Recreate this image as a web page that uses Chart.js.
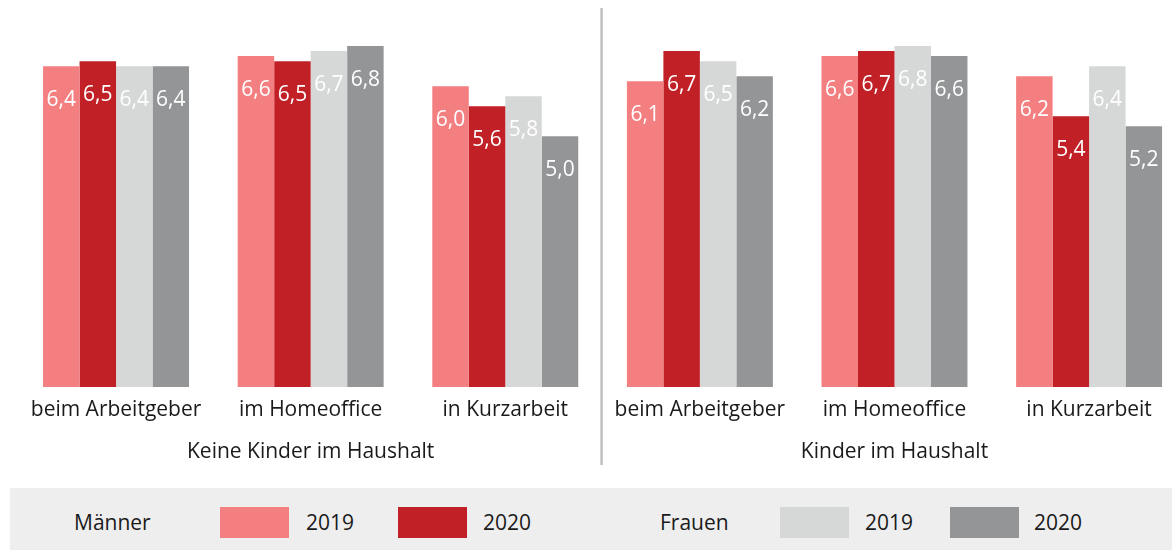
<!DOCTYPE html>
<html>
<head>
<meta charset="utf-8">
<script src="https://cdn.jsdelivr.net/npm/chart.js@4"></script>
<style>
    html, body { margin: 0; padding: 0; background: #fff; overflow: hidden; }
    body { width: 1172px; height: 550px; position: relative; font-family: "Open Sans", sans-serif; }
    #chartWrap { position: absolute; left: 0; top: 0; width: 1190px; height: 488px; }
    #legend { position: absolute; left: 10px; top: 488px; width: 1162px; height: 62px; background: #eeeeee; }
    #legend span { position: absolute; font-size: 21px; color: #1a1a1a; line-height: 62px; top: 3px; }
    #legend i { position: absolute; top: 19px; width: 69px; height: 31px; }
</style>
</head>
<body>
<div id="chartWrap"><canvas id="mainChart" width="1190" height="488"></canvas></div>
<div id="legend">
    <span style="left:64px">Männer</span>
    <i style="left:210px;background:#f47f80"></i>
    <span style="left:296px">2019</span>
    <i style="left:388px;background:#c12026"></i>
    <span style="left:473px">2020</span>
    <span style="left:650px">Frauen</span>
    <i style="left:770px;background:#d6d8d7"></i>
    <span style="left:855px">2019</span>
    <i style="left:940px;background:#939596"></i>
    <span style="left:1024px">2020</span>
</div>
<script>
// categories: three situations per household type
const categories = [
    'beim Arbeitgeber', ['im Homeoffice', 'Keine Kinder im Haushalt'], 'in Kurzarbeit',
    'beim Arbeitgeber', ['im Homeoffice', 'Kinder im Haushalt'], 'in Kurzarbeit'
];
const maenner2019 = [6.4, 6.6, 6.0, 6.1, 6.6, 6.2];
const maenner2020 = [6.5, 6.5, 5.6, 6.7, 6.7, 5.4];
const frauen2019 = [6.4, 6.7, 5.8, 6.5, 6.8, 6.4];
const frauen2020 = [6.4, 6.8, 5.0, 6.2, 6.6, 5.2];

const colors = ['#f47f80', '#c12026', '#d6d8d7', '#939596'];

// white value labels inside the top of each bar
const valueLabels = {
    id: 'valueLabels',
    afterDatasetsDraw(chart) {
        const ctx = chart.ctx;
        ctx.save();
        ctx.font = '21px "Open Sans"';
        ctx.fillStyle = '#ffffff';
        ctx.textAlign = 'center';
        ctx.textBaseline = 'middle';
        chart.data.datasets.forEach(function(ds, i) {
            chart.getDatasetMeta(i).data.forEach(function(bar, j) {
                ctx.fillText(ds.data[j].toFixed(1).replace('.', ','), bar.x, bar.y + 34);
            });
        });
        ctx.restore();
    }
};

// vertical divider between the two panels
const divider = {
    id: 'divider',
    afterDraw(chart) {
        const x = chart.scales.x;
        const px = (x.getPixelForValue(2) + x.getPixelForValue(3)) / 2 - 1;
        const ctx = chart.ctx;
        ctx.save();
        ctx.strokeStyle = '#c0c0c0';
        ctx.lineWidth = 2.5;
        ctx.beginPath();
        ctx.moveTo(px, 8);
        ctx.lineTo(px, 465);
        ctx.stroke();
        ctx.restore();
    }
};

new Chart(document.getElementById('mainChart'), {
    type: 'bar',
    data: {
        labels: categories,
        datasets: [
            { label: 'Männer 2019', data: maenner2019, backgroundColor: colors[0] },
            { label: 'Männer 2020', data: maenner2020, backgroundColor: colors[1] },
            { label: 'Frauen 2019', data: frauen2019, backgroundColor: colors[2] },
            { label: 'Frauen 2020', data: frauen2020, backgroundColor: colors[3] }
        ]
    },
    options: {
        responsive: false,
        animation: false,
        events: [],
        categoryPercentage: 0.75,
        barPercentage: 1.0,
        layout: { padding: { left: 18.75, right: 3.6, top: 11, bottom: 13 } },
        plugins: { legend: { display: false }, tooltip: { enabled: false } },
        scales: {
            y: { display: false, min: 0, max: 7.5 },
            x: {
                grid: { display: false, drawTicks: false },
                border: { display: false },
                ticks: {
                    padding: 2,
                    color: '#1a1a1a',
                    font: { family: 'Open Sans', size: 21, lineHeight: 2 },
                    maxRotation: 0,
                    autoSkip: false
                }
            }
        }
    },
    plugins: [valueLabels, divider]
});
</script>
</body>
</html>
